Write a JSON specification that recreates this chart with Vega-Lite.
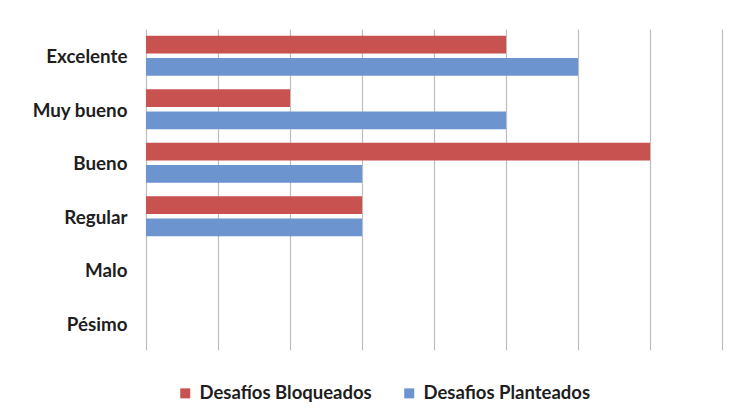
{
  "$schema": "https://vega.github.io/schema/vega-lite/v6.json",
  "width": 576,
  "height": 321,
  "autosize": {"type": "none"},
  "padding": {"left": 146, "top": 29, "right": 13, "bottom": 70},
  "background": "#ffffff",
  "config": {
    "view": {"stroke": null},
    "font": "Lato",
    "axis": {"labelFont": "Lato", "labelFontWeight": "bold", "labelColor": "#1e1e1e", "labelFontSize": 18.8},
    "legend": {"labelFont": "Lato", "labelFontWeight": "bold", "labelColor": "#1e1e1e", "labelFontSize": 18.5}
  },
  "data": {
    "values": [
      {"calificacion": "Excelente", "serie": "Desafíos Bloqueados", "valor": 5},
      {"calificacion": "Excelente", "serie": "Desafios Planteados", "valor": 6},
      {"calificacion": "Muy bueno", "serie": "Desafíos Bloqueados", "valor": 2},
      {"calificacion": "Muy bueno", "serie": "Desafios Planteados", "valor": 5},
      {"calificacion": "Bueno", "serie": "Desafíos Bloqueados", "valor": 7},
      {"calificacion": "Bueno", "serie": "Desafios Planteados", "valor": 3},
      {"calificacion": "Regular", "serie": "Desafíos Bloqueados", "valor": 3},
      {"calificacion": "Regular", "serie": "Desafios Planteados", "valor": 3},
      {"calificacion": "Malo", "serie": "Desafíos Bloqueados", "valor": 0},
      {"calificacion": "Malo", "serie": "Desafios Planteados", "valor": 0},
      {"calificacion": "Pésimo", "serie": "Desafíos Bloqueados", "valor": 0},
      {"calificacion": "Pésimo", "serie": "Desafios Planteados", "valor": 0}
    ]
  },
  "mark": {"type": "bar", "cornerRadius": 0},
  "encoding": {
    "y": {
      "field": "calificacion",
      "type": "nominal",
      "sort": ["Excelente", "Muy bueno", "Bueno", "Regular", "Malo", "Pésimo"],
      "scale": {"paddingInner": 0.25, "paddingOuter": 0.125},
      "axis": {"title": null, "ticks": false, "domain": false, "labelPadding": 19, "labelOffset": 1.5}
    },
    "yOffset": {
      "field": "serie",
      "type": "nominal",
      "sort": ["Desafíos Bloqueados", "Desafios Planteados"],
      "scale": {"paddingInner": 0.21, "paddingOuter": 0}
    },
    "x": {
      "field": "valor",
      "type": "quantitative",
      "scale": {"domain": [0, 8], "nice": false},
      "axis": {
        "title": null,
        "labels": false,
        "ticks": false,
        "domain": false,
        "grid": true,
        "values": [0, 1, 2, 3, 4, 5, 6, 7, 8],
        "gridColor": "#bdbdbd",
        "gridWidth": 1.2
      }
    },
    "color": {
      "field": "serie",
      "type": "nominal",
      "scale": {
        "domain": ["Desafíos Bloqueados", "Desafios Planteados"],
        "range": ["#c8524f", "#6c95d0"]
      },
      "legend": {
        "title": null,
        "orient": "none",
        "direction": "horizontal",
        "legendX": 30,
        "legendY": 355,
        "symbolType": "square",
        "symbolSize": 100,
        "symbolStrokeWidth": 0,
        "labelOffset": 5,
        "labelLimit": 400,
        "columnPadding": 28
      }
    }
  }
}
